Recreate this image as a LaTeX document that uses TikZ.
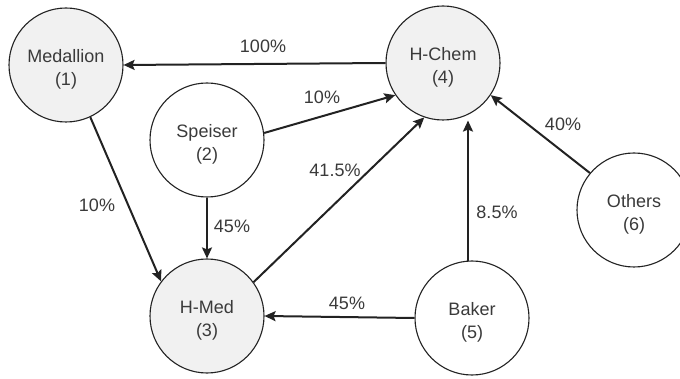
\documentclass[tikz,border=0pt]{standalone}
\usepackage{fontspec}
\setmainfont{Liberation Sans}
\usetikzlibrary{arrows.meta}
\definecolor{txt}{HTML}{3A3A3A}
\definecolor{fillg}{HTML}{F1F1F1}
\definecolor{ln}{HTML}{222222}
\newcommand{\twolines}[2]{\raisebox{-4.5pt}[\height][\depth]{\begin{tabular}{@{}c@{}}#1\\#2\end{tabular}}}
\begin{document}
\begin{tikzpicture}[x=1pt,y=-1pt,
  ent/.style={circle,draw=ln,line width=1.1pt,minimum size=114pt,inner sep=0pt,
    align=center,text=txt,font=\fontsize{18}{23}\selectfont},
  shaded/.style={ent,fill=fillg},
  flow/.style={draw=ln,line width=2pt,-{Stealth[length=11pt,width=10pt,inset=2pt]}},
  lab/.style={text=txt,font=\fontsize{18}{21}\selectfont,inner sep=0pt}]
\useasboundingbox (0,0) rectangle (680,379);
\clip (0,0) rectangle (680,379);
\fill[white] (0,0) rectangle (680,379);
\node[shaded] (medal) at (66,65) {\twolines{Medallion}{(1)}};
\node[ent] (speiser) at (207,140) {\twolines{Speiser}{(2)}};
\node[shaded] (hmed) at (207,316) {\twolines{H-Med}{(3)}};
\node[shaded] (hchem) at (443,63) {\twolines{H-Chem}{(4)}};
\node[ent] (baker) at (472,318) {\twolines{Baker}{(5)}};
\node[ent] (others) at (634,210) {\twolines{Others}{(6)}};

\draw[flow] (hchem.180) -- (medal.0);
\draw[flow] (speiser.7) -- (hchem.214);
\draw[flow] (medal.295) -- (hmed.143);
\draw[flow] (speiser.270) -- (hmed.90);
\draw[flow] (hmed.36) -- (hchem.251);
\draw[flow] (baker.94) -- (baker.94 |- hchem.south);
\draw[flow] (baker.180) -- (hmed.0);
\draw[flow] (others.140) -- (hchem.326);

\node[lab] (l1) at (263,46) {100\%};
\node[lab] (l2) at (322,97) {10\%};
\node[lab] (l3) at (97,205) {10\%};
\node[lab] (l4) at (232,226) {45\%};
\node[lab] (l5) at (335,170) {41.5\%};
\node[lab] (l6) at (497,212) {8.5\%};
\node[lab] (l7) at (347,303) {45\%};
\node[lab] (l8) at (563,124) {40\%};
\end{tikzpicture}
\end{document}
